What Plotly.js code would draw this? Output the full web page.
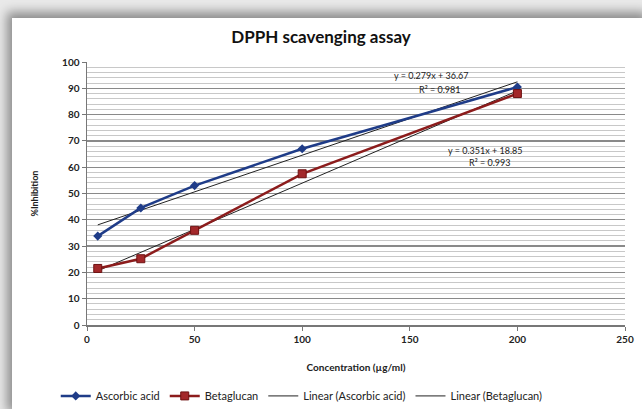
<!DOCTYPE html>
<html><head><meta charset="utf-8">
<script src="https://cdn.plot.ly/plotly-3.0.1.min.js"></script>
<style>
html,body{margin:0;padding:0;width:642px;height:409px;overflow:hidden;background:#e9e9e9;}
#frame{position:absolute;left:12px;top:18px;width:640px;height:400px;background:#fff;box-shadow:-5px -6px 10px rgba(0,0,0,0.4);}
#chart{position:absolute;left:0;top:0;width:642px;height:409px;}
</style></head>
<body>
<div id="frame"></div>
<div id="chart"></div>
<script>
const concentration = [5, 25, 50, 100, 200];
const ascorbicAcid = [33.8, 44.5, 53.0, 67.0, 90.5];
const betaglucan = [21.5, 25.2, 36.0, 57.5, 88.0];
const trendNames = ["Linear (Ascorbic acid)", "Linear (Betaglucan)"];
const trendSlope = [0.279, 0.351];
const trendIntercept = [36.67, 18.85];
const trendR2 = ["0.981", "0.993"];
const xTicks = [0, 50, 100, 150, 200, 250];
const yTicks = [0, 10, 20, 30, 40, 50, 60, 70, 80, 90, 100];

const xEnds = [concentration[0], concentration[concentration.length-1]];
const font = "Lato, 'Open Sans', sans-serif";

const traces = [];
trendNames.forEach((n,i)=>{
  traces.push({x:xEnds, y:xEnds.map(v=>trendSlope[i]*v+trendIntercept[i]), mode:'lines', name:n,
    line:{color:'#222', width:1}, legendrank:3+i});
});
traces.push({x:concentration, y:ascorbicAcid, mode:'lines+markers', name:'Ascorbic acid',
  line:{color:'#1f3c88', width:2.5}, marker:{symbol:'diamond', size:7, color:'#1f3c88'}, legendrank:1});
traces.push({x:concentration, y:betaglucan, mode:'lines+markers', name:'Betaglucan',
  line:{color:'#8c1c1c', width:2.5}, marker:{symbol:'square', size:8, color:'#a3282a', line:{color:'#6e1212', width:1}}, legendrank:2});

const layout = {
  width:642, height:409,
  margin:{l:87, r:17, t:62, b:84},
  paper_bgcolor:'rgba(0,0,0,0)', plot_bgcolor:'#fff',
  font:{family:font, color:'#222'},
  title:{text:'<b>DPPH scavenging assay</b>', font:{size:17, family:font, color:'#111'}, x:0.5, xanchor:'center', y:0.91, yanchor:'middle'},
  xaxis:{range:[0,250], tickvals:xTicks, ticktext:xTicks.map(String), showgrid:false, zeroline:false, automargin:false,
    showline:true, linecolor:'#777', linewidth:1.5, ticks:'outside', ticklen:4, tickcolor:'#777',
    tickfont:{size:10, family:font, color:'#222', weight:'bold'},
    title:{text:'<b>Concentration (µg/ml)</b>', font:{size:10, family:font, color:'#222'}, standoff:20}},
  yaxis:{range:[0,100], tickvals:yTicks, ticktext:yTicks.map(String), showgrid:true, gridcolor:'#8a8a8a', gridwidth:1.3,
    zeroline:false, showline:true, linecolor:'#777', linewidth:1.5, ticks:'outside', ticklen:4, tickcolor:'#777', automargin:false,
    tickfont:{size:10, family:font, color:'#222', weight:'bold'},
    minor:{dtick:2, showgrid:true, gridcolor:'#c8c8c8', gridwidth:1},
    title:{text:'<b>%Inhibition</b>', font:{size:9, family:font, color:'#222'}, standoff:22}},
  legend:{orientation:'h', x:0.47, xanchor:'center', xref:'container', yref:'container', y:0.032, yanchor:'middle',
    font:{size:11, family:font, color:'#222'}, traceorder:'normal'},
  showlegend:true,
  annotations:[
    {x:160, y:94.8, xref:'x', yref:'y', text:'y = 0.279x + 36.67', showarrow:false, font:{size:9, family:font, color:'#222'}},
    {x:164, y:89.5, xref:'x', yref:'y', text:'R² = '+trendR2[0], showarrow:false, font:{size:9, family:font, color:'#222'}},
    {x:185, y:66.2, xref:'x', yref:'y', text:'y = 0.351x + 18.85', showarrow:false, font:{size:9, family:font, color:'#222'}},
    {x:187, y:61.7, xref:'x', yref:'y', text:'R² = '+trendR2[1], showarrow:false, font:{size:9, family:font, color:'#222'}}
  ]
};
Plotly.newPlot('chart', traces, layout, {displayModeBar:false, staticPlot:true});
</script>
</body></html>
